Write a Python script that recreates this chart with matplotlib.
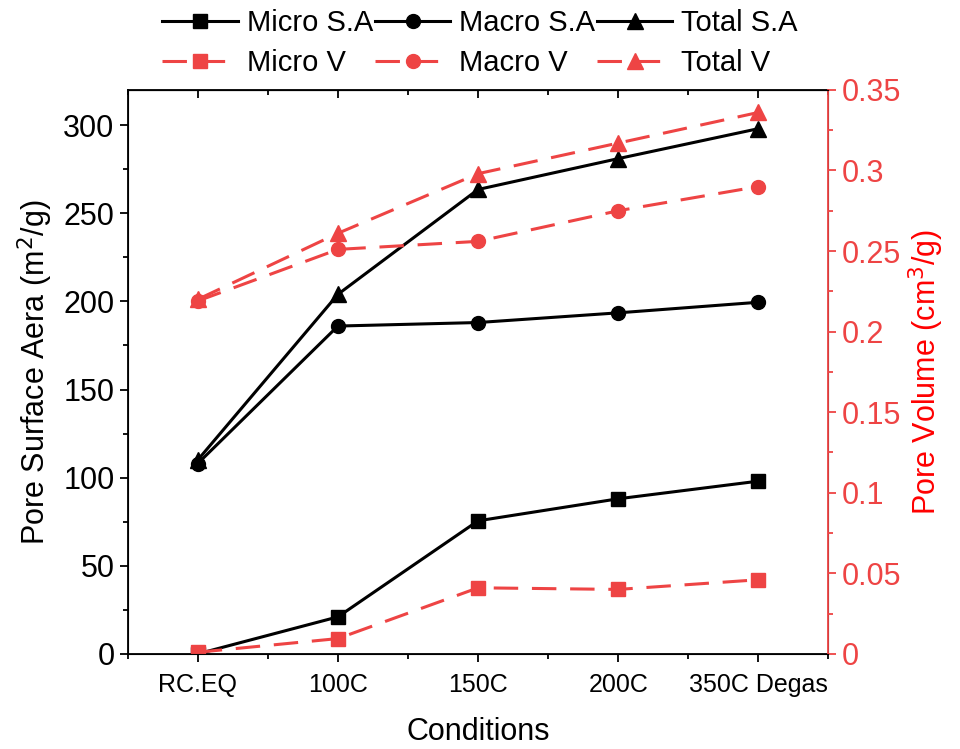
import matplotlib
matplotlib.use("Agg")
import matplotlib.pyplot as plt
from matplotlib.ticker import MultipleLocator

plt.rcParams['font.family'] = ['Liberation Sans', 'DejaVu Sans']

# data
conditions = ['RC.EQ', '100C', '150C', '200C', '350C Degas']
micro_sa = [0, 21, 75.5, 88, 98]
macro_sa = [108, 186, 188, 193.5, 199.5]
total_sa = [110, 204, 263.5, 281, 298]
micro_v = [0.001, 0.0095, 0.041, 0.040, 0.046]
macro_v = [0.219, 0.251, 0.256, 0.275, 0.290]
total_v = [0.220, 0.261, 0.298, 0.317, 0.336]
v_ticks = [0, 0.05, 0.1, 0.15, 0.2, 0.25, 0.3, 0.35]
v_ticklabels = ['0', '0.05', '0.1', '0.15', '0.2', '0.25', '0.3', '0.35']

red = '#EE4444'
x = range(len(conditions))

fig = plt.figure(figsize=(9.6, 7.49), dpi=100)
ax = fig.add_axes([0.133, 0.127, 0.73, 0.753])
ax2 = ax.twinx()

dash = (8, 4.5)
l1, = ax.plot(x, micro_sa, 'k-', marker='s', ms=10, lw=2.2, label='Micro S.A')
l2, = ax.plot(x, macro_sa, 'k-', marker='o', ms=10, lw=2.2, label='Macro S.A')
l3, = ax.plot(x, total_sa, 'k-', marker='^', ms=11, lw=2.2, label='Total S.A')
l4, = ax2.plot(x, micro_v, '--', color=red, marker='s', ms=10, lw=2.2, dashes=dash, label='Micro V')
l5, = ax2.plot(x, macro_v, '--', color=red, marker='o', ms=10, lw=2.2, dashes=dash, label='Macro V')
l6, = ax2.plot(x, total_v, '--', color=red, marker='^', ms=11, lw=2.2, dashes=dash, label='Total V')

ax.set_xlim(-0.5, 4.5)
ax.set_ylim(0, 320)
ax2.set_ylim(0, 0.35)
ax.set_xticks(list(x))
ax.set_xticklabels(conditions, fontsize=18)
ax.xaxis.set_minor_locator(MultipleLocator(0.5))
ax.yaxis.set_major_locator(MultipleLocator(50))
ax.yaxis.set_minor_locator(MultipleLocator(25))
ax2.set_yticks(v_ticks)
ax2.set_yticklabels(v_ticklabels)
ax2.yaxis.set_minor_locator(MultipleLocator(0.025))

ax.tick_params(axis='y', labelsize=22, width=1.3, length=6)
ax.tick_params(axis='y', which='minor', width=1.3, length=3.5)
ax.tick_params(axis='x', which='major', width=1.3, length=6, pad=8)
ax.tick_params(axis='x', which='minor', width=1.3, length=3.5)
ax2.tick_params(axis='y', colors=red, labelsize=22, width=1.3, length=6)
ax2.tick_params(axis='y', which='minor', colors=red, width=1.3, length=3.5)
ax2.spines['right'].set_color(red)
for s in ['left', 'top', 'bottom']:
    ax.spines[s].set_linewidth(1.3)
ax2.spines['right'].set_linewidth(1.3)

# inward ticks along the top edge
top = ax.secondary_xaxis('top')
top.set_xticks(list(x))
top.set_xticklabels([])
top.xaxis.set_minor_locator(MultipleLocator(0.5))
top.tick_params(which='major', direction='in', width=1.3, length=6)
top.tick_params(which='minor', direction='in', width=1.3, length=3.5)

ax.set_xlabel('Conditions', fontsize=22, labelpad=14)
ax.set_ylabel('Pore Surface Aera (m$^2$/g)', fontsize=22, labelpad=6)
ax2.set_ylabel('Pore Volume (cm$^3$/g)', fontsize=22, color='red', labelpad=4)

fig.legend(handles=[l1, l4, l2, l5, l3, l6], ncol=3, loc='upper center',
           bbox_to_anchor=(0.5, 1.007), frameon=False, fontsize=21,
           handlelength=2.6, handletextpad=0.3, columnspacing=0.05,
           labelspacing=0.4, borderaxespad=0.1)

fig.savefig('out.png', dpi=100)
